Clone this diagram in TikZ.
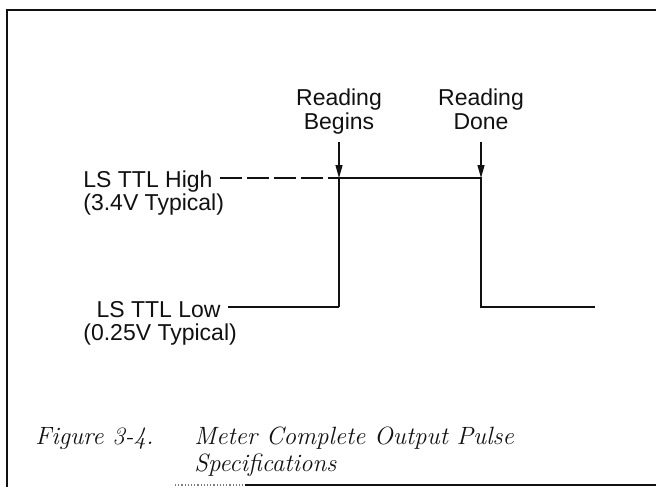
\documentclass[tikz,border=0pt]{standalone}
\usepackage{fontspec}
\usepackage{xcolor}
\usepackage{tikz}
\usetikzlibrary{arrows.meta,positioning}
\newfontfamily\labelfont{Liberation Sans}
\definecolor{scanInk}{HTML}{111111}
\tikzset{
  lbl/.style={
    font=\labelfont\fontsize{11.5}{12}\selectfont,
    inner sep=0pt,
    text=scanInk
  },
  caption/.style={
    font=\itshape\fontsize{12.5}{15}\selectfont,
    inner sep=0pt,
    text=scanInk
  },
  wave/.style={draw=scanInk, line width=0.9pt},
  level/.style={draw=scanInk, line width=0.8pt, dash pattern=on 11pt off 2.5pt},
  arrow/.style={-{Triangle[length=6.5pt,width=3.5pt]}, draw=scanInk, line width=0.6pt},
  frame/.style={draw=scanInk, line width=1.2pt}
}

\begin{document}
\begin{tikzpicture}[x=0.5pt,y=-0.5pt]
  \useasboundingbox (0,0) rectangle (656,487);
  % scanned frame
  \draw[frame] (7,487) -- (7,10) -- (656,10);
  \draw[scanInk!55, densely dotted, line width=0.6pt] (175,485) -- (245,485);
  \draw[scanInk, line width=0.8pt] (245,485) -- (656,485);

  % level labels
  \node[lbl, anchor=base west] (hiLbl) at (83,187) {LS TTL High};
  \node[lbl, anchor=base west] (hiNote) at (83,210) {(3.4V Typical)};
  \node[lbl, anchor=base east] (loLbl) at (221,317) {LS TTL Low};
  \node[lbl, anchor=base west] (loNote) at (83,340) {(0.25V Typical)};

  \coordinate (riseLo) at (339,307);
  \coordinate (riseHi) at (339,178);
  \coordinate (fallHi) at (481,178);
  \coordinate (fallLo) at (481,307);
  \coordinate (endLo) at (595,307);

  % event labels
  \node[lbl, align=center, anchor=south] (begLbl) at (339,135) {Reading\\Begins};
  \node[lbl, align=center, anchor=south] (doneLbl) at (481,130) {Reading\\Done};

  % pulse
  \draw[level, shorten <=3.5pt] (hiLbl.east |- riseHi) -- (riseHi);
  \draw[wave, shorten <=3.5pt] (loLbl.east |- riseLo) -- (riseLo);
  \draw[wave] (riseLo) -- (riseHi) -- (fallHi) -- (fallLo) -- (endLo);

  \draw[arrow, shorten <=3.5pt] (begLbl.south) -- (riseHi);
  \draw[arrow, shorten <=6pt] (doneLbl.south) -- (fallHi);

  % caption
  \node[caption, anchor=base west] (figNum) at (35,444) {Figure 3-4.};
  \node[caption, anchor=base west] (figTitle) at (194,444) {Meter Complete Output Pulse};
  \node[caption, anchor=base west] (figTitleB) at (194,471) {Specifications};
\end{tikzpicture}
\end{document}
